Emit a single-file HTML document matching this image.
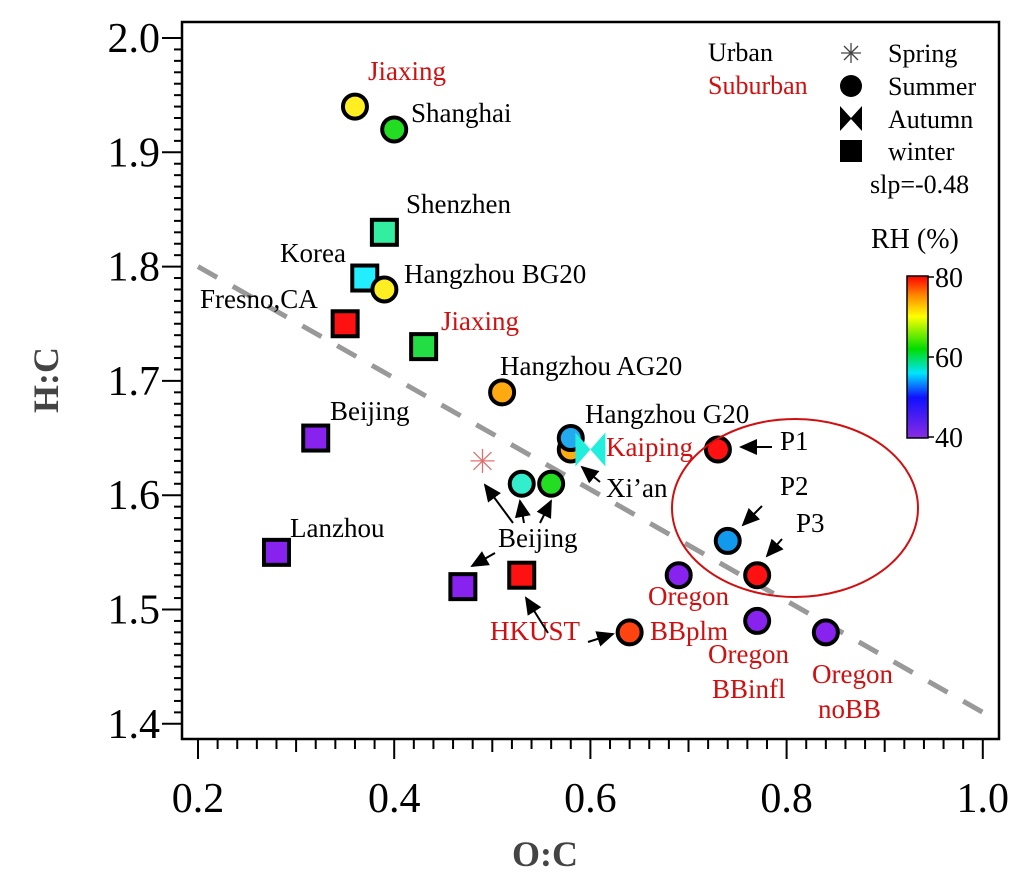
<!DOCTYPE html>
<html><head><meta charset="utf-8"><style>
body{margin:0;background:#fff}
svg{display:block;font-family:"Liberation Serif",serif}
text{font-family:"Liberation Serif",serif}
</style></head><body>
<svg id="chart" width="1033" height="891" viewBox="0 0 1033 891">
<defs>
<linearGradient id="rhgrad" x1="0" y1="1" x2="0" y2="0">
<stop offset="0" stop-color="#8a2be2"/><stop offset="0.25" stop-color="#1010ff"/><stop offset="0.4" stop-color="#00e5ff"/><stop offset="0.55" stop-color="#00dd00"/><stop offset="0.75" stop-color="#ffff00"/><stop offset="0.88" stop-color="#ff8800"/><stop offset="1" stop-color="#ff0000"/>
</linearGradient>
<marker id="arr" markerWidth="10" markerHeight="10" refX="8" refY="5" orient="auto"><path d="M0,1 L9,5 L0,9 Z" fill="#000"/></marker>
</defs>
<rect x="182" y="22" width="817" height="717" fill="none" stroke="#000" stroke-width="2.5"/>
<g id="axes"></g>
<g id="marks"></g>
<g id="labels" font-size="27">
<text x="368" y="80" fill="#d01010">Jiaxing</text>
<text x="411" y="122">Shanghai</text>
<text x="406" y="213">Shenzhen</text>
<text x="280" y="262">Korea</text>
<text x="404" y="283">Hangzhou BG20</text>
<text x="200" y="308">Fresno,CA</text>
<text x="441" y="330" fill="#d01010">Jiaxing</text>
<text x="500" y="375">Hangzhou AG20</text>
<text x="330" y="420">Beijing</text>
<text x="585" y="423">Hangzhou G20</text>
<text x="606" y="456" fill="#d01010">Kaiping</text>
<text x="606" y="497">Xi’an</text>
<text x="498" y="547">Beijing</text>
<text x="290" y="537">Lanzhou</text>
<text x="490" y="640" fill="#d01010">HKUST</text>
<text x="648" y="605" fill="#d01010">Oregon</text>
<text x="650" y="640" fill="#d01010">BBplm</text>
<text x="708" y="663" fill="#d01010">Oregon</text>
<text x="712" y="698" fill="#d01010">BBinfl</text>
<text x="812" y="683" fill="#d01010">Oregon</text>
<text x="818" y="718" fill="#d01010">noBB</text>
<text x="780" y="450">P1</text>
<text x="780" y="495">P2</text>
<text x="796" y="532">P3</text>
</g>
<g id="arrows" stroke="#000" stroke-width="2" marker-end="url(#arr)">
<line x1="600" y1="482" x2="582" y2="467"/>
<line x1="513" y1="523" x2="485" y2="485"/>
<line x1="524" y1="523" x2="520" y2="501"/>
<line x1="540" y1="523" x2="551" y2="501"/>
<line x1="495" y1="553" x2="472" y2="566"/>
<line x1="548" y1="633" x2="526" y2="598"/>
<line x1="588" y1="642" x2="613" y2="634"/>
<line x1="772" y1="447" x2="741" y2="447"/>
<line x1="762" y1="506" x2="743" y2="525"/>
<line x1="782" y1="539" x2="767" y2="556"/>
</g>
<ellipse cx="795" cy="508" rx="123" ry="89" fill="none" stroke="#d01010" stroke-width="2"/>
<g id="legend" font-size="26">
<text x="708" y="61">Urban</text>
<text x="708" y="94" fill="#d01010">Suburban</text>
<g stroke="#444" stroke-width="1.3"><line x1="851" y1="43" x2="851" y2="63"/><line x1="841" y1="53" x2="861" y2="53"/><line x1="844" y1="46" x2="858" y2="60"/><line x1="858" y1="46" x2="844" y2="60"/></g>
<text x="888" y="62">Spring</text>
<circle cx="851" cy="86" r="11"/>
<text x="888" y="95">Summer</text>
<path d="M840,106 L851,118 L862,106 L862,131 L851,119 L840,131 Z"/>
<text x="888" y="128">Autumn</text>
<rect x="840" y="140" width="22" height="22"/>
<text x="888" y="160">winter</text>
<text x="870" y="193">slp=-0.48</text>
<text x="871" y="248" font-size="28">RH (%)</text>
<rect x="907" y="276" width="21" height="162" fill="url(#rhgrad)" stroke="#000" stroke-width="1.5"/>
<g stroke="#000" stroke-width="1.5"><line x1="928" y1="277" x2="934" y2="277"/><line x1="928" y1="357" x2="934" y2="357"/><line x1="928" y1="437" x2="934" y2="437"/></g>
<text x="935" y="287" font-size="28">80</text>
<text x="935" y="367" font-size="28">60</text>
<text x="935" y="447" font-size="28">40</text>
</g>
<text transform="translate(58,380) rotate(-90)" text-anchor="middle" font-size="36" font-weight="bold" fill="#444">H:C</text>
<text x="545" y="866" text-anchor="middle" font-size="36" font-weight="bold" fill="#444">O:C</text>
<script>
const xTicks=[0.2,0.4,0.6,0.8,1.0];
const yTicks=[1.4,1.5,1.6,1.7,1.8,1.9,2.0];
const ocVals=[0.36,0.40,0.39,0.37,0.39,0.35,0.43,0.51,0.32,0.58,0.58,0.53,0.56,0.28,0.47,0.53,0.73,0.74,0.77,0.69,0.77,0.84,0.64];
const hcVals=[1.94,1.92,1.83,1.79,1.78,1.75,1.73,1.69,1.65,1.64,1.65,1.61,1.61,1.55,1.52,1.53,1.64,1.56,1.53,1.53,1.49,1.48,1.48];
const seasons=["summer","summer","winter","winter","summer","winter","winter","summer","winter","summer","summer","summer","summer","winter","winter","winter","summer","summer","summer","summer","summer","summer","summer"];
const colors=["#ffee22","#22dd22","#33eea0","#22eeff","#ffee22","#ff1111","#22dd44","#ffaa11","#8822ee","#ffaa11","#22aaee","#33eecc","#22dd22","#8822ee","#8822ee","#ff1111","#ff1111","#1199ee","#ff1111","#8822ee","#8822ee","#8822ee","#ff4411"];
const autumnPts=[[0.60,1.64]];
const springPts=[[0.49,1.63]];
const fitLine=[[0.2,1.80],[1.0,1.41]];
const NS="http://www.w3.org/2000/svg";
const X=v=>198+(v-0.2)*981;
const Y=v=>38+(2.0-v)*1143;
function mk(t,a,p){const e=document.createElementNS(NS,t);for(const k in a)e.setAttribute(k,a[k]);p.appendChild(e);return e;}
const ax=document.getElementById('axes');
for(let i=0;i<=40;i++){const v=0.2+i*0.02;const x=X(v);const len=i%10==0?20:(i%5==0?13:10);
 const t=mk('line',{x1:x,y1:739,x2:x,y2:739+len,stroke:'#000','stroke-width':2},ax);
 
 }
for(let i=0;i<=60;i++){const v=1.4+i*0.01;const y=Y(v);const len=i%10==0?20:8;
 const t=mk('line',{x1:182-len,y1:y,x2:182,y2:y,stroke:'#000','stroke-width':2},ax);
 
 }
xTicks.forEach(v=>{const t=mk('text',{x:X(v),y:812,'text-anchor':'middle','font-size':42},ax);t.textContent=v.toFixed(1);
 
 });
yTicks.forEach(v=>{const t=mk('text',{x:160,y:Y(v)+14,'text-anchor':'end','font-size':42},ax);t.textContent=v.toFixed(1);
 
 });
const ln=mk('line',{x1:X(fitLine[0][0]),y1:Y(fitLine[0][1]),x2:X(fitLine[1][0]),y2:Y(fitLine[1][1]),stroke:'#999','stroke-width':5,'stroke-dasharray':'22,18'},ax);


const mg=document.getElementById('marks');
ocVals.forEach((o,i)=>{const x=X(o),y=Y(hcVals[i]);let e;
 if(seasons[i]=="winter"){e=mk('rect',{x:x-12.5,y:y-12.5,width:25,height:25,fill:colors[i],stroke:'#000','stroke-width':4},mg);}
 else{e=mk('circle',{cx:x,cy:y,r:12,fill:colors[i],stroke:'#000','stroke-width':4},mg);}
 
 });
autumnPts.forEach(p=>{const x=X(p[0]),y=Y(p[1]);
 const e=mk('path',{d:`M${x-15},${y-17} L${x},${y} L${x+15},${y-17} L${x+15},${y+17} L${x},${y} L${x-15},${y+17} Z`,fill:'#22eedd'},mg);
 
 });
springPts.forEach(p=>{const x=X(p[0]),y=Y(p[1]);const g=mk('g',{stroke:'#e07070','stroke-width':1.3},mg);
 
 
 [[0,-12,0,12],[-12,0,12,0],[-9,-9,9,9],[9,-9,-9,9]].forEach(d=>mk('line',{x1:x+d[0],y1:y+d[1],x2:x+d[2],y2:y+d[3]},g));});
</script>
</svg>
</body></html>
